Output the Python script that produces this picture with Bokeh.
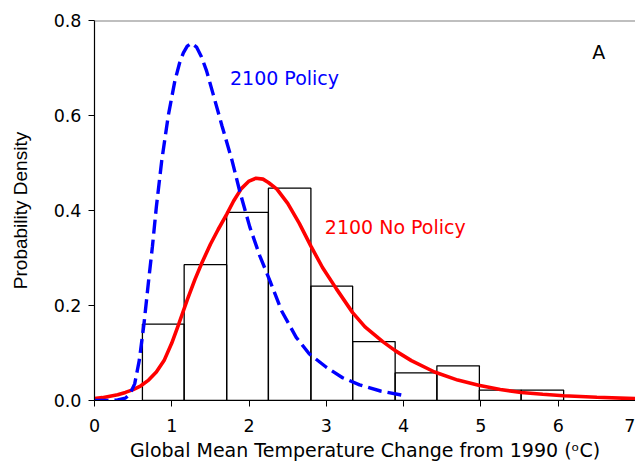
from bokeh.plotting import figure
from bokeh.models import Range1d, FixedTicker, Span, Label, CustomJSTickFormatter
from bokeh.embed import file_html
from bokeh.resources import INLINE

# Histogram (bin edges and probability densities)
bin_edges = [0.62, 1.16, 1.71, 2.25, 2.80, 3.34, 3.89, 4.43, 4.98, 5.52, 6.07]
bin_density = [0.161, 0.286, 0.396, 0.447, 0.241, 0.124, 0.058, 0.073, 0.022, 0.022]

# 2100 Policy (blue dashed curve)
policy_x = [0.0, 0.2, 0.3, 0.4, 0.46, 0.52, 0.58, 0.64, 0.70, 0.75, 0.80, 0.87, 0.955,
            1.04, 1.10, 1.15, 1.20, 1.255, 1.32, 1.385, 1.45, 1.535, 1.65, 1.78, 1.88,
            2.01, 2.14, 2.27, 2.42, 2.61, 2.78, 3.0, 3.21, 3.43, 3.7, 3.99]
policy_y = [0.0, 0.0, 0.001, 0.005, 0.014, 0.035, 0.085, 0.161, 0.252, 0.325, 0.407, 0.505, 0.600,
            0.673, 0.710, 0.732, 0.746, 0.752, 0.744, 0.723, 0.694, 0.645, 0.578, 0.505, 0.440,
            0.365, 0.304, 0.252, 0.189, 0.133, 0.098, 0.070, 0.048, 0.033, 0.020, 0.011]

# 2100 No Policy (red solid curve)
nopolicy_x = [0.0, 0.1, 0.2, 0.3, 0.4, 0.5, 0.6, 0.7, 0.8, 0.9, 1.0, 1.09, 1.2, 1.3, 1.39,
              1.5, 1.6, 1.71, 1.8, 1.9, 2.0, 2.09, 2.18, 2.25, 2.36, 2.5, 2.65, 2.8, 2.95,
              3.13, 3.34, 3.5, 3.73, 3.89, 4.1, 4.4, 4.7, 4.97, 5.25, 5.52, 5.8, 6.07,
              6.5, 7.0]
nopolicy_y = [0.004, 0.006, 0.009, 0.012, 0.017, 0.023, 0.031, 0.043, 0.060, 0.084, 0.121, 0.161,
              0.212, 0.255, 0.290, 0.329, 0.360, 0.392, 0.420, 0.446, 0.462, 0.468, 0.466,
              0.459, 0.445, 0.415, 0.373, 0.325, 0.280, 0.235, 0.185, 0.155, 0.124, 0.105,
              0.084, 0.060, 0.043, 0.032, 0.023, 0.017, 0.013, 0.010, 0.007, 0.004]

x_ticks = [0, 1, 2, 3, 4, 5, 6, 7]
y_ticks = [0.0, 0.2, 0.4, 0.6, 0.8]

FONT = "DejaVu Sans"
FONT_V = "Liberation Sans"

p = figure(width=635, height=466, output_backend="svg", toolbar_location=None,
           x_range=Range1d(0, 7.0), y_range=Range1d(0, 0.8),
           min_border_left=94, min_border_top=20, min_border_bottom=66, min_border_right=0)
p.background_fill_color = "white"
p.border_fill_color = "white"
p.grid.visible = False
p.outline_line_color = None

p.quad(left=bin_edges[:-1], right=bin_edges[1:], bottom=0, top=bin_density,
       fill_color=None, line_color="black", line_width=1.3)

p.line(nopolicy_x, nopolicy_y, line_color="#ff0000", line_width=3.6)
p.line(policy_x, policy_y, line_color="#0000ff", line_width=3.4, line_dash="14 6")

p.add_layout(Span(location=0.8, dimension="width", line_color="#808080", line_width=2))

for ax in (p.xaxis[0], p.yaxis[0]):
    ax.axis_line_color = "black"
    ax.axis_line_width = 1.2
    ax.major_tick_line_color = "black"
    ax.major_tick_out = 6
    ax.major_tick_in = 0
    ax.minor_tick_line_color = None
    ax.major_label_text_font = FONT
    ax.major_label_text_font_size = "17.5px"
    ax.major_label_text_color = "black"
    ax.axis_label_text_font_style = "normal"
    ax.axis_label_text_color = "black"

p.xaxis.ticker = FixedTicker(ticks=x_ticks)
p.yaxis.ticker = FixedTicker(ticks=y_ticks)
p.yaxis.formatter = CustomJSTickFormatter(code="return tick.toFixed(1);")
p.xaxis.major_label_standoff = 12
p.yaxis.major_label_standoff = 7

p.xaxis.axis_label = "Global Mean Temperature Change from 1990 (\u1d52C)"
p.xaxis.axis_label_text_font = FONT
p.xaxis.axis_label_text_font_size = "19px"
p.xaxis.axis_label_standoff = 4
p.yaxis.axis_label = "Probability Density"
p.yaxis.axis_label_text_font = FONT_V
p.yaxis.axis_label_text_font_size = "19px"
p.yaxis.axis_label_standoff = 20

p.add_layout(Label(x=1.753, y=0.678, text="2100 Policy", text_color="#0000ff",
                   text_font=FONT, text_font_size="19px", text_baseline="middle"))
p.add_layout(Label(x=2.98, y=0.365, text="2100 No Policy", text_color="#ff0000",
                   text_font=FONT, text_font_size="19px", text_baseline="middle"))
p.add_layout(Label(x=6.44, y=0.733, text="A", text_color="black",
                   text_font=FONT, text_font_size="19px", text_baseline="middle"))

open("out.html", "w").write(file_html(p, INLINE))
